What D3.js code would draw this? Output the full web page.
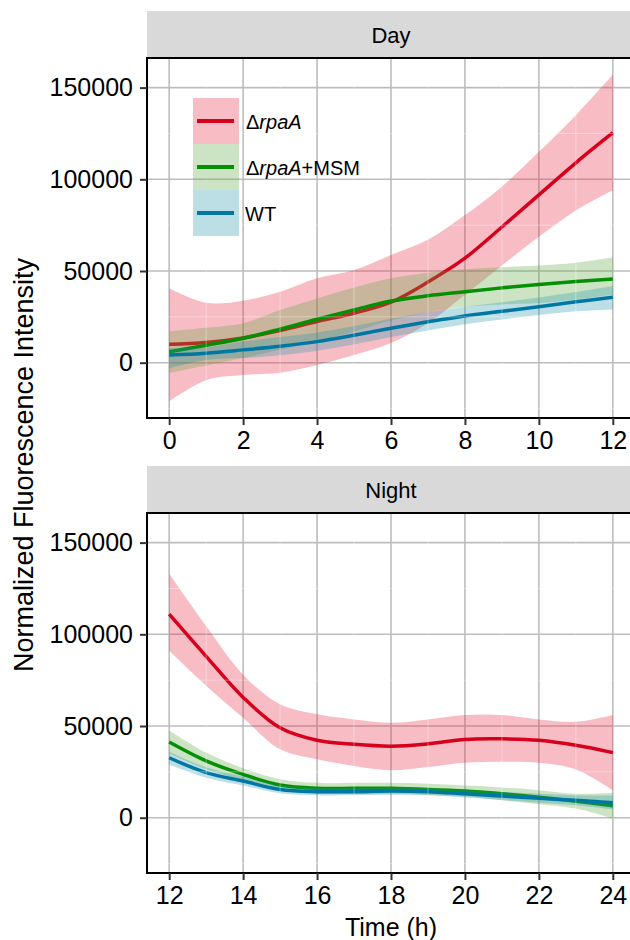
<!DOCTYPE html>
<html>
<head>
<meta charset="utf-8">
<script src="https://cdn.jsdelivr.net/npm/d3@7"></script>
<style>
  body { margin: 0; background: #fff; }
  svg text { font-family: "Liberation Sans", Arial, Helvetica, sans-serif; fill: #000; }
</style>
</head>
<body>
<div id="container"></div>
<script>
// ---- data ----
var seriesNames = ["ΔrpaA", "ΔrpaA+MSM", "WT"]
var panelNames = ["Day", "Night"]

var dayHours = [0, 1, 2, 3, 4, 5, 6, 7, 8, 9, 10, 11, 12]
var nightHours = [12, 13, 14, 15, 16, 17, 18, 19, 20, 21, 22, 23, 24]

var dayTicks = [0, 2, 4, 6, 8, 10, 12]
var nightTicks = [12, 14, 16, 18, 20, 22, 24]
var yTicks = [0, 50000, 100000, 150000]
var yMinorTicks = [-25000, 25000, 75000, 125000]

// day
var dayRpaA   = [10000, 11000, 13500, 17500, 22400, 27000, 33000, 44000, 57000, 74000, 91500, 109000, 125400]
var dayRpaAHi = [40600, 32700, 33800, 38700, 46000, 50500, 58700, 67000, 80500, 96000, 115000, 135000, 157000]
var dayRpaALo = [-21000, -9500, -6700, -5500, -1300, 4200, 10700, 21600, 37000, 53000, 68700, 83000, 94000]

var dayMSM   = [6000, 9500, 13300, 18300, 23700, 28800, 33600, 36500, 38700, 40800, 42700, 44300, 45600]
var dayMSMHi = [17000, 19000, 21500, 28700, 35000, 41000, 46000, 49000, 51000, 52000, 53000, 54500, 57500]
var dayMSMLo = [-5600, -1500, 2600, 7000, 11500, 17000, 23000, 27500, 30500, 31800, 32500, 34500, 37000]

var dayWT   = [4200, 5200, 7000, 9000, 11500, 15000, 18800, 22300, 25500, 28000, 30500, 33200, 35700]
var dayWTHi = [7800, 8500, 11500, 14000, 16500, 20000, 24000, 27500, 30500, 33000, 35500, 38500, 41800]
var dayWTLo = [-3000, 1500, 2500, 4000, 6500, 10000, 14000, 17500, 21000, 23500, 26000, 28000, 29000]

// night
var nightRpaA   = [111000, 88000, 65600, 49000, 42200, 40000, 39000, 40300, 42700, 43000, 42200, 39500, 35500]
var nightRpaAHi = [133000, 104500, 78000, 61800, 56400, 53600, 51800, 53600, 56000, 56000, 53600, 52300, 56000]
var nightRpaALo = [91000, 72000, 54500, 37300, 31900, 28200, 25900, 27700, 30000, 30500, 30000, 26300, 15000]

var nightMSM   = [41300, 31000, 23600, 17800, 16000, 16000, 16000, 15400, 14500, 13000, 11200, 9000, 6500]
var nightMSMHi = [47600, 35500, 27000, 21000, 19000, 19000, 19000, 18500, 17500, 16500, 15000, 13000, 13600]
var nightMSMLo = [35000, 26500, 20200, 14800, 13000, 13000, 13000, 12400, 11500, 9500, 7400, 5000, -500]

var nightWT   = [32700, 24600, 20000, 15400, 14200, 14200, 14500, 14200, 13000, 11800, 10600, 9500, 8200]
var nightWTHi = [36000, 27500, 22500, 17500, 16200, 16200, 16500, 16200, 15000, 14000, 13000, 12200, 12000]
var nightWTLo = [29000, 21800, 17500, 13300, 12200, 12200, 12500, 12200, 11000, 9600, 8200, 6800, 4500]

var lineColors = ["#d6001c", "#058f05", "#0077a2"]
var bandColors = ["#e8203f", "#58a53a", "#2094ac"]

// ---- layout ----
var W = 630, H = 940
var left = 147, right = 635
var panels = [
  { name: panelNames[0], stripTop: 11, top: 58, bottom: 418, hours: dayHours, ticks: dayTicks,
    xDomain: [-0.6, 12.6],
    series: [[dayRpaA, dayRpaALo, dayRpaAHi], [dayMSM, dayMSMLo, dayMSMHi], [dayWT, dayWTLo, dayWTHi]] },
  { name: panelNames[1], stripTop: 466, top: 513, bottom: 873, hours: nightHours, ticks: nightTicks,
    xDomain: [11.4, 24.6],
    series: [[nightRpaA, nightRpaALo, nightRpaAHi], [nightMSM, nightMSMLo, nightMSMHi], [nightWT, nightWTLo, nightWTHi]] }
]

var svg = d3.select("#container").append("svg")
  .attr("width", W)
  .attr("height", H)

var defs = svg.append("defs")

panels.forEach(function(p, pi) {
  var x = d3.scaleLinear().domain(p.xDomain).range([left, right])
  var y = d3.scaleLinear().domain([-30150, 166150]).range([p.bottom, p.top])

  defs.append("clipPath").attr("id", "clip" + pi)
    .append("rect")
    .attr("x", left).attr("y", p.top)
    .attr("width", right - left).attr("height", p.bottom - p.top)

  // strip
  svg.append("rect")
    .attr("x", left).attr("y", p.stripTop)
    .attr("width", right - left).attr("height", p.top - p.stripTop)
    .attr("fill", "#d9d9d9")
  svg.append("text")
    .attr("x", (left + right) / 2)
    .attr("y", (p.stripTop + p.top) / 2 + 8)
    .attr("text-anchor", "middle")
    .style("font-size", "22px")
    .attr("fill", "#1a1a1a")
    .text(p.name)

  var g = svg.append("g")

  // major grid
  g.selectAll(".vgrid").data(p.ticks).enter().append("line")
    .attr("x1", d => x(d)).attr("x2", d => x(d))
    .attr("y1", p.top).attr("y2", p.bottom)
    .attr("stroke", "#bdbdbd").attr("stroke-width", 1.6)
  g.selectAll(".hgrid").data(yTicks).enter().append("line")
    .attr("x1", left).attr("x2", right)
    .attr("y1", d => y(d)).attr("y2", d => y(d))
    .attr("stroke", "#bdbdbd").attr("stroke-width", 1.6)

  var area = d3.area()
    .x(d => x(d[0])).y0(d => y(d[1])).y1(d => y(d[2]))
    .curve(d3.curveCatmullRom.alpha(0.5))
  var line = d3.line()
    .x(d => x(d[0])).y(d => y(d[1]))
    .curve(d3.curveCatmullRom.alpha(0.5))

  var plot = g.append("g").attr("clip-path", "url(#clip" + pi + ")")

  p.series.forEach(function(s, si) {
    var pts = p.hours.map((h, i) => [h, s[1][i], s[2][i]])
    var mid = p.hours.map((h, i) => [h, s[0][i]])
    plot.append("path")
      .attr("d", area(pts))
      .attr("fill", bandColors[si])
      .attr("fill-opacity", 0.3)
    plot.append("path")
      .attr("d", line(mid))
      .attr("fill", "none")
      .attr("stroke", lineColors[si])
      .attr("stroke-width", 3.5)
  })

  // faint minor grid showing over the bands
  var xMinor = d3.range(Math.ceil(p.xDomain[0]), p.xDomain[1], 1).filter(d => p.ticks.indexOf(d) < 0)
  plot.selectAll(".vminor").data(xMinor).enter().append("line")
    .attr("x1", d => x(d)).attr("x2", d => x(d))
    .attr("y1", p.top).attr("y2", p.bottom)
    .attr("stroke", "#fff").attr("stroke-opacity", 0.35).attr("stroke-width", 1)
  plot.selectAll(".hminor").data(yMinorTicks).enter().append("line")
    .attr("x1", left).attr("x2", right)
    .attr("y1", d => y(d)).attr("y2", d => y(d))
    .attr("stroke", "#fff").attr("stroke-opacity", 0.35).attr("stroke-width", 1)

  // panel border
  g.append("rect")
    .attr("x", left).attr("y", p.top)
    .attr("width", right - left).attr("height", p.bottom - p.top)
    .attr("fill", "none").attr("stroke", "#000").attr("stroke-width", 2)

  // axes
  var xAxisCall = d3.axisBottom(x).tickValues(p.ticks).tickSize(7).tickPadding(6)
  var xAxis = svg.append("g")
    .attr("transform", `translate(0, ${p.bottom})`)
    .call(xAxisCall)
  xAxis.select(".domain").remove()
  xAxis.selectAll(".tick line").attr("stroke", "#333").attr("stroke-width", 2)
  xAxis.selectAll(".tick text").style("font-size", "25px").attr("fill", "#1a1a1a")
    .attr("font-family", null)

  var yAxisCall = d3.axisLeft(y).tickValues(yTicks).tickSize(7).tickPadding(7)
    .tickFormat(d3.format("d"))
  var yAxis = svg.append("g")
    .attr("transform", `translate(${left}, 0)`)
    .call(yAxisCall)
  yAxis.select(".domain").remove()
  yAxis.selectAll(".tick line").attr("stroke", "#333").attr("stroke-width", 2)
  yAxis.selectAll(".tick text").style("font-size", "25px").attr("fill", "#1a1a1a")
    .attr("font-family", null)
})

// axis titles
svg.append("text")
  .attr("transform", "translate(33, 465) rotate(-90)")
  .attr("text-anchor", "middle")
  .style("font-size", "27px")
  .text("Normalized Fluorescence Intensity")

svg.append("text")
  .attr("x", (left + right) / 2)
  .attr("y", 936)
  .attr("text-anchor", "middle")
  .style("font-size", "25px")
  .text("Time (h)")

// legend
var legend = svg.append("g").attr("transform", "translate(193, 98)")
var keySize = 46
seriesNames.forEach(function(name, i) {
  var k = legend.append("g").attr("transform", `translate(0, ${i * keySize})`)
  k.append("rect")
    .attr("width", keySize).attr("height", keySize)
    .attr("fill", bandColors[i]).attr("fill-opacity", 0.3)
  k.append("line")
    .attr("x1", 4).attr("x2", 41)
    .attr("y1", keySize / 2).attr("y2", keySize / 2)
    .attr("stroke", lineColors[i]).attr("stroke-width", 4)
  var t = k.append("text")
    .attr("x", 53).attr("y", keySize / 2 + 7.5)
    .style("font-size", "20px")
  if (name.indexOf("rpaA") >= 0) {
    t.append("tspan").text("Δ")
    t.append("tspan").style("font-style", "italic").text("rpaA")
    if (name.indexOf("+MSM") >= 0) t.append("tspan").text("+MSM")
  } else {
    t.attr("x", 52).text(name)
  }
})
</script>
</body>
</html>
